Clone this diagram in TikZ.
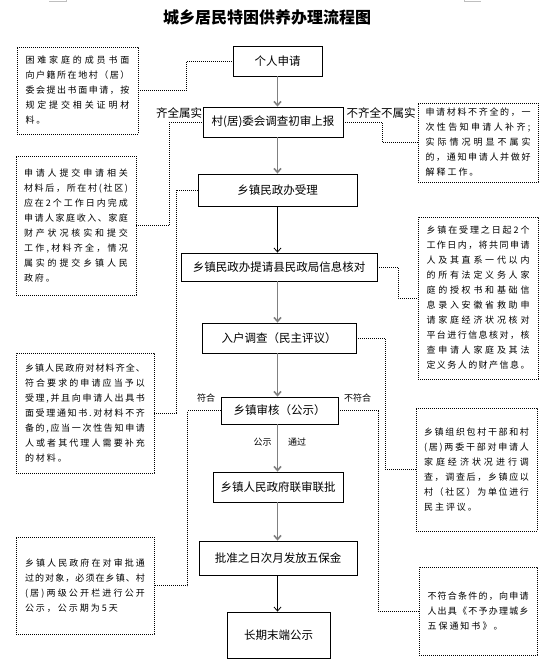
\documentclass[tikz,border=0pt]{standalone}
\usepackage{fontspec}
\setmainfont{Noto Sans CJK SC}
\usetikzlibrary{arrows.meta}
\let\jlE\relax
\def\jlA#1#2\jlE{#1\ifx\jlE#2\jlE\else\hfil\jlA#2\jlE\fi}
\def\jlB#1#2\jlE{#1\ifx\jlE#2\jlE\else\kern2pt\jlB#2\jlE\fi}
\newcommand\jl[1]{\hbox to \hsize{\jlA#1\jlE}}
\newcommand\jlast[1]{\hbox{\jlB#1\jlE}}
\newcommand\notetext[2]{\vbox{\hsize=#1pt\relax #2}}
\tikzset{
  mainbox/.style={draw, line width=0.8pt, fill=white, inner sep=0pt, font=\fontsize{11.5}{13}\selectfont},
  notebox/.style={draw, line width=0.8pt, dash pattern=on 0.8pt off 1.2pt, inner sep=0pt, font=\fontsize{9}{15}\selectfont},
  conn/.style={line width=0.8pt, dash pattern=on 0.8pt off 1.2pt},
  garrow/.style={draw=gray, line width=1.6pt, -{Straight Barb[length=4pt,width=7pt]}},
  barrow/.style={draw=black, line width=0.8pt, -{Straight Barb[length=4pt,width=7pt]}},
  biglabel/.style={inner sep=0pt, font=\fontsize{11.5}{13}\selectfont},
  smalllabel/.style={inner sep=0pt, font=\fontsize{9}{10}\selectfont}
}
\begin{document}
\begin{tikzpicture}[x=1pt,y=-1pt]
\useasboundingbox (0,0) rectangle (550,669);
% page marks
\draw[gray!50, line width=0.5pt] (49,1) -- (66,1) -- (66,0);
\draw[gray!50, line width=0.5pt] (464,0) -- (464,1) -- (481,1);
% title
\node[inner sep=0pt, font=\fontsize{16}{18}\selectfont\bfseries] (title) at (267,17) {城乡居民特困供养办理流程图};
% label behind box 2
\node[biglabel, anchor=west] (lqq) at (156,113) {齐全属实};
% main boxes
\node[mainbox, minimum width=89pt, minimum height=30pt] (b1) at (277.5,61) {个人申请};
\node[mainbox, minimum width=140pt, minimum height=30pt] (b2) at (273,122) {村(居)委会调查初审上报};
\node[mainbox, minimum width=159pt, minimum height=32pt] (b3) at (277.5,190) {乡镇民政办受理};
\node[mainbox, minimum width=196pt, minimum height=28pt] (b4) at (279,267) {乡镇民政办提请县民政局信息核对};
\node[mainbox, minimum width=154pt, minimum height=30pt] (b5) at (279,338) {入户调查（民主评议）};
\node[mainbox, minimum width=117pt, minimum height=27pt] (b6) at (279.5,410.5) {乡镇审核（公示）};
\node[mainbox, minimum width=130pt, minimum height=30pt] (b7) at (278,487) {乡镇人民政府联审联批};
\node[mainbox, minimum width=158pt, minimum height=34pt] (b8) at (278,558) {批准之日次月发放五保金};
\node[mainbox, minimum width=103pt, minimum height=46pt] (b9) at (278.5,635) {长期末端公示};
% labels
\node[biglabel] (lbq) at (381,113.5) {不齐全不属实};
\node[smalllabel] (lfh) at (206,398) {符合};
\node[smalllabel] (lbfh) at (357.5,398) {不符合};
\node[smalllabel] (lgs) at (262.5,442) {公示};
\node[smalllabel] (ltg) at (297,442) {通过};
% arrows
\draw[garrow] (b1.south) -- (b1.south |- b2.north);
\draw[garrow] (b3.north |- b2.south) -- (b3.north);
\draw[barrow] (b3.south) -- (b3.south |- b4.north);
\draw[garrow] (b3.south |- b4.south) -- (b3.south |- b5.north);
\draw[garrow] (b3.south |- b5.south) -- (b3.south |- b6.north);
\draw[garrow] (b3.south |- b6.south) -- (b3.south |- b7.north);
\draw[garrow] (b3.south |- b7.south) -- (b3.south |- b8.north);
\draw[barrow] (b3.south |- b8.south) -- (b3.south |- b9.north);
% left notes
\node[notebox, minimum width=121pt, minimum height=87pt] (n1) at (77.5,90.5) {\notetext{104}{%
\jl{困难家庭的成员书面}\jl{向户籍所在地村（居）}\jl{委会提出书面申请，按}\jl{规定提交相关证明材}\jlast{料。}}};
\node[notebox, minimum width=120pt, minimum height=139pt] (n2) at (76,225.5) {\notetext{104}{%
\jl{申请人提交申请相关}\jl{材料后，所在村(社区)}\jl{应在2个工作日内完成}\jl{申请人家庭收入、家庭}\jl{财产状况核实和提交}\jl{工作,材料齐全，情况}\jl{属实的提交乡镇人民}\jlast{政府。}}};
\node[notebox, minimum width=138pt, minimum height=120pt] (n3) at (85,413) {\notetext{120}{%
\jl{乡镇人民政府对材料齐全、}\jl{符合要求的申请应当予以}\jl{受理,并且向申请人出具书}\jl{面受理通知书.对材料不齐}\jl{备的,应当一次性告知申请}\jl{人或者其代理人需要补充}\jlast{的材料。}}};
\node[notebox, minimum width=138pt, minimum height=97pt] (n5) at (85,585.5) {\notetext{120}{%
\jl{乡镇人民政府在对审批通}\jl{过的对象，必须在乡镇、村}\jl{(居)两级公开栏进行公开}\jlast{公示，公示期为5天}}};
% right notes
\node[notebox, minimum width=120pt, minimum height=79pt] (r1) at (478,142.5) {\notetext{105}{%
\jl{申请材料不齐全的，一}\jl{次性告知申请人补齐;}\jl{实际情况明显不属实}\jl{的，通知申请人并做好}\jlast{解释工作。}}};
\node[notebox, minimum width=120pt, minimum height=162pt] (r2) at (478,298) {\notetext{103}{%
\jl{乡镇在受理之日起2个}\jl{工作日内，将共同申请}\jl{人及其直系一代以内}\jl{的所有法定义务人家}\jl{庭的授权书和基础信}\jl{息录入安徽省救助申}\jl{请家庭经济状况核对}\jl{平台进行信息核对，核}\jl{查申请人家庭及其法}\jl{定义务人的财产信息。}}};
\node[notebox, minimum width=121pt, minimum height=123pt] (r3) at (476.5,469.5) {\notetext{105}{%
\jl{乡镇组织包村干部和村}\jl{(居)两委干部对申请人}\jl{家庭经济状况进行调}\jl{查，调查后，乡镇应以}\jl{村（社区）为单位进行}\jlast{民主评议。}}};
\node[notebox, minimum width=118pt, minimum height=88pt] (r4) at (478,611) {\notetext{101}{%
\jl{不符合条件的，向申请}\jl{人出具《不予办理城乡}\jlast{五保通知书》。}}};
% dotted connectors
\draw[conn] (n1.east) -- ++(48,0) |- (b1.west);
\draw[conn] (n2.east) -- ++(33,0) |- (b2.west);
\draw[conn] (n3.east) -- ++(22,0) |- (b3.west);
\draw[conn] (b2.east) -- ++(39,0) |- (r1.west);
\draw[conn] (b4.east) -- ++(21,0) |- (r2.west);
\draw[conn] (b5.east) -- ++(29,0) |- (r3.west);
\draw[conn] (b6.east) -- ++(40,0) |- (r4.west);
\draw[conn] (b6.west) -- ++(-33,0) |- (n5.east);
\end{tikzpicture}
\end{document}
